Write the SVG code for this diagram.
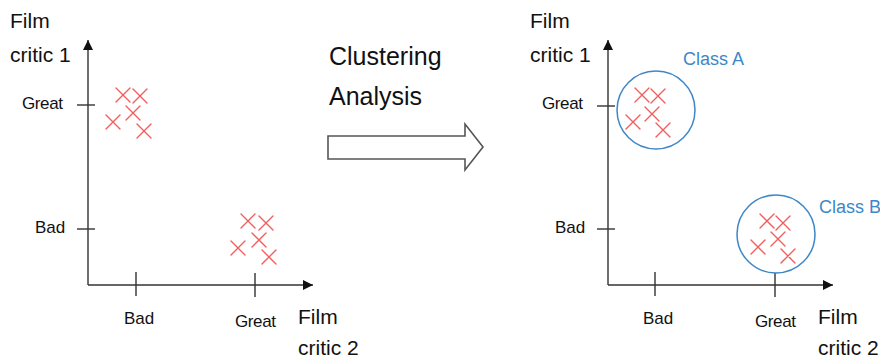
<svg xmlns="http://www.w3.org/2000/svg" width="880" height="361" viewBox="0 0 880 361">
<defs>
<style>
.axis{stroke:#333;stroke-width:1.4;fill:none}
.tick{stroke:#333;stroke-width:1.4}
.lbl{font-family:"Liberation Sans",Arial,sans-serif;fill:#111}
.big{font-size:21px}
.tk{font-size:17px}
.x{stroke:#f35c5c;stroke-width:1.4;fill:none;stroke-linecap:round}
.cls{fill:none;stroke:#3d87c8;stroke-width:1.5}
.ctext{font-family:"Liberation Sans",Arial,sans-serif;font-size:18px;fill:#3d87c8}
</style>
<marker id="ah" viewBox="0 0 10 10" refX="10" refY="5" markerWidth="10" markerHeight="10" markerUnits="userSpaceOnUse" orient="auto">
<path d="M0,0 L10,5 L0,10 z" fill="#111"/>
</marker>
<path id="xm" d="M-7,-7 L7,7 M7,-7 L-7,7"/>
</defs>
<rect width="880" height="361" fill="#fff"/>

<g id="left-plot">
<g id="left-axes">
<path class="axis" d="M88,285 L88,40" marker-end="url(#ah)"/>
<path class="axis" d="M88,285 L313,285" marker-end="url(#ah)"/>
<line class="tick" x1="77" y1="105" x2="95" y2="105"/>
<line class="tick" x1="77" y1="229" x2="95" y2="229"/>
<line class="tick" x1="136" y1="272" x2="136" y2="296"/>
<line class="tick" x1="255" y1="273" x2="255" y2="297"/>
</g>
<g id="left-labels">
<text class="lbl big" x="10" y="28">Film</text>
<text class="lbl big" x="10" y="62">critic 1</text>
<text class="lbl tk" x="22" y="109" textLength="41">Great</text>
<text class="lbl tk" x="35" y="233">Bad</text>
<text class="lbl tk" x="124" y="324">Bad</text>
<text class="lbl tk" x="235" y="327" textLength="41">Great</text>
<text class="lbl big" x="298" y="324">Film</text>
<text class="lbl big" x="298" y="355">critic 2</text>
</g>
<g id="left-points" class="x">
<use href="#xm" x="123" y="95"/>
<use href="#xm" x="140" y="96"/>
<use href="#xm" x="113" y="122"/>
<use href="#xm" x="133" y="113"/>
<use href="#xm" x="144" y="131"/>
<use href="#xm" x="248" y="221"/>
<use href="#xm" x="266" y="223"/>
<use href="#xm" x="238" y="248"/>
<use href="#xm" x="259" y="240"/>
<use href="#xm" x="269" y="257"/>
</g>
</g>

<g id="transition">
<text class="lbl" x="329" y="65" font-size="25">Clustering</text>
<text class="lbl" x="329" y="105" font-size="25">Analysis</text>
<path d="M328,136 L465,136 L465,124 L483,147 L465,170 L465,159 L328,159 Z" fill="#fff" stroke="#555" stroke-width="1.6"/>
</g>

<g id="right-plot">
<g id="right-axes">
<path class="axis" d="M608,285 L608,40" marker-end="url(#ah)"/>
<path class="axis" d="M608,285 L833,285" marker-end="url(#ah)"/>
<line class="tick" x1="597" y1="106" x2="615" y2="106"/>
<line class="tick" x1="597" y1="229" x2="615" y2="229"/>
<line class="tick" x1="655" y1="272" x2="655" y2="296"/>
<line class="tick" x1="775" y1="273" x2="775" y2="297"/>
</g>
<g id="right-labels">
<text class="lbl big" x="530" y="28">Film</text>
<text class="lbl big" x="530" y="62">critic 1</text>
<text class="lbl tk" x="542" y="109" textLength="41">Great</text>
<text class="lbl tk" x="555" y="233">Bad</text>
<text class="lbl tk" x="643" y="324">Bad</text>
<text class="lbl tk" x="755" y="327" textLength="41">Great</text>
<text class="lbl big" x="818" y="324">Film</text>
<text class="lbl big" x="818" y="355">critic 2</text>
</g>
<g id="class-a">
<circle class="cls" cx="656" cy="110" r="39"/>
<text class="ctext" x="683" y="65">Class A</text>
<g class="x">
<use href="#xm" x="642" y="95"/>
<use href="#xm" x="658" y="96"/>
<use href="#xm" x="633" y="122"/>
<use href="#xm" x="652" y="114"/>
<use href="#xm" x="663" y="130"/>
</g>
</g>
<g id="class-b">
<circle class="cls" cx="776" cy="234" r="39"/>
<text class="ctext" x="819" y="213">Class B</text>
<g class="x">
<use href="#xm" x="767" y="221"/>
<use href="#xm" x="783" y="223"/>
<use href="#xm" x="758" y="247"/>
<use href="#xm" x="778" y="239"/>
<use href="#xm" x="788" y="256"/>
</g>
</g>
</g>
</svg>
